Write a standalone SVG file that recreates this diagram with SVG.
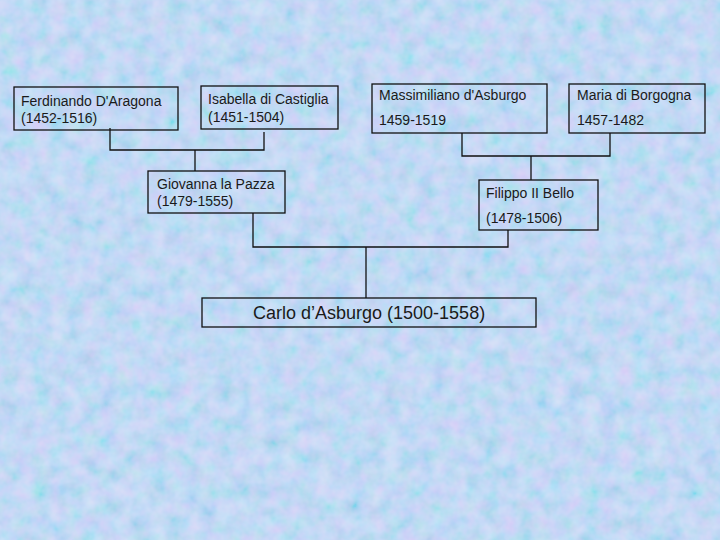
<svg xmlns="http://www.w3.org/2000/svg" width="720" height="540" viewBox="0 0 720 540">
<style>
.box{fill:none;stroke:#111;stroke-width:1.3}
.t{font-family:"Liberation Sans",Arial,sans-serif;font-size:14px;fill:#1a1a1a}
.big{font-size:18px}
.c{fill:none;stroke:#111;stroke-width:1.3}
</style>
<defs>
<filter id="noise" x="0" y="0" width="100%" height="100%">
<feTurbulence type="fractalNoise" baseFrequency="0.06" numOctaves="3" seed="4" result="n"/>
<feColorMatrix in="n" type="matrix" values="1.2 0 0 0 -0.1  0 0.6 0 0 0.45  0.4 0 0.4 0 0.55  0 0 0 0 0.35"/>
</filter>
</defs>
<rect width="720" height="540" fill="#c4d5f2"/>
<rect width="720" height="540" filter="url(#noise)"/>
<g id="connectors">
<polyline class="c" points="110,128 110,150 264,150 264,132"/>
<line class="c" x1="195" y1="150" x2="195" y2="171"/>
<polyline class="c" points="462,133 462,156 610,156 610,133"/>
<line class="c" x1="531" y1="156" x2="531" y2="180"/>
<polyline class="c" points="253,213 253,247 508,247 508,230"/>
<line class="c" x1="366" y1="247" x2="366" y2="298"/>
</g>
<g id="ferdinando">
<rect class="box" x="14" y="87" width="164" height="43"/>
<text class="t" x="21" y="106">Ferdinando D'Aragona</text>
<text class="t" x="21" y="123">(1452-1516)</text>
</g>
<g id="isabella">
<rect class="box" x="201" y="86" width="137" height="43"/>
<text class="t" x="208" y="104">Isabella di Castiglia</text>
<text class="t" x="208" y="122">(1451-1504)</text>
</g>
<g id="massimiliano">
<rect class="box" x="372" y="84" width="175" height="49"/>
<text class="t" x="379" y="100">Massimiliano d'Asburgo</text>
<text class="t" x="379" y="125">1459-1519</text>
</g>
<g id="maria">
<rect class="box" x="569" y="84" width="136" height="49"/>
<text class="t" x="577" y="100">Maria di Borgogna</text>
<text class="t" x="577" y="125">1457-1482</text>
</g>
<g id="giovanna">
<rect class="box" x="148" y="171" width="137" height="42"/>
<text class="t" x="157" y="189">Giovanna la Pazza</text>
<text class="t" x="157" y="206">(1479-1555)</text>
</g>
<g id="filippo">
<rect class="box" x="479" y="180" width="119" height="50"/>
<text class="t" x="486" y="198">Filippo II Bello</text>
<text class="t" x="486" y="223">(1478-1506)</text>
</g>
<g id="carlo">
<rect class="box" x="202" y="298" width="334" height="29"/>
<text class="t big" x="253" y="319">Carlo d’Asburgo (1500-1558)</text>
</g>
</svg>
